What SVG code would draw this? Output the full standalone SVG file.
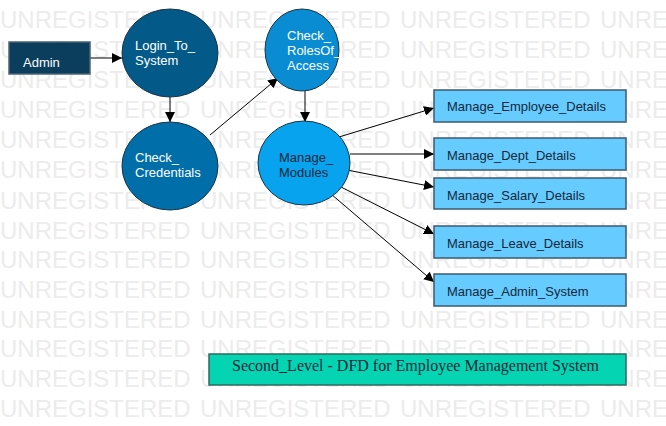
<svg xmlns="http://www.w3.org/2000/svg" width="666" height="426" viewBox="0 0 666 426">
<defs>
<style>
.wm{font-family:"Liberation Sans",Arial,sans-serif;font-size:24px;fill:#ececec}
.lbl{font-family:"Liberation Sans",Arial,sans-serif;font-size:13px}
.w{fill:#ffffff}
.d{fill:#15283a}
.box{fill:#66ccff;stroke:#3d5a6c;stroke-width:1.5}
.conn{stroke:#000;stroke-width:1;fill:none;marker-end:url(#ah)}
</style>
<marker id="ah" viewBox="0 0 10 10" refX="10" refY="5" markerWidth="10" markerHeight="10" markerUnits="userSpaceOnUse" orient="auto">
<path d="M0,0 L10,5 L0,10 z" fill="#000"/>
</marker>
</defs>
<rect width="666" height="426" fill="#ffffff"/>
<g id="watermark">
<text class="wm" y="28"><tspan x="0">UNREGISTERED</tspan><tspan x="200">UNREGISTERED</tspan><tspan x="400">UNREGISTERED</tspan><tspan x="600">UNREGISTERED</tspan></text>
<text class="wm" y="58"><tspan x="0">UNREGISTERED</tspan><tspan x="200">UNREGISTERED</tspan><tspan x="400">UNREGISTERED</tspan><tspan x="600">UNREGISTERED</tspan></text>
<text class="wm" y="88"><tspan x="0">UNREGISTERED</tspan><tspan x="200">UNREGISTERED</tspan><tspan x="400">UNREGISTERED</tspan><tspan x="600">UNREGISTERED</tspan></text>
<text class="wm" y="118"><tspan x="0">UNREGISTERED</tspan><tspan x="200">UNREGISTERED</tspan><tspan x="400">UNREGISTERED</tspan><tspan x="600">UNREGISTERED</tspan></text>
<text class="wm" y="148"><tspan x="0">UNREGISTERED</tspan><tspan x="200">UNREGISTERED</tspan><tspan x="400">UNREGISTERED</tspan><tspan x="600">UNREGISTERED</tspan></text>
<text class="wm" y="178"><tspan x="0">UNREGISTERED</tspan><tspan x="200">UNREGISTERED</tspan><tspan x="400">UNREGISTERED</tspan><tspan x="600">UNREGISTERED</tspan></text>
<text class="wm" y="209"><tspan x="0">UNREGISTERED</tspan><tspan x="200">UNREGISTERED</tspan><tspan x="400">UNREGISTERED</tspan><tspan x="600">UNREGISTERED</tspan></text>
<text class="wm" y="239"><tspan x="0">UNREGISTERED</tspan><tspan x="200">UNREGISTERED</tspan><tspan x="400">UNREGISTERED</tspan><tspan x="600">UNREGISTERED</tspan></text>
<text class="wm" y="268"><tspan x="0">UNREGISTERED</tspan><tspan x="200">UNREGISTERED</tspan><tspan x="400">UNREGISTERED</tspan><tspan x="600">UNREGISTERED</tspan></text>
<text class="wm" y="298"><tspan x="0">UNREGISTERED</tspan><tspan x="200">UNREGISTERED</tspan><tspan x="400">UNREGISTERED</tspan><tspan x="600">UNREGISTERED</tspan></text>
<text class="wm" y="328"><tspan x="0">UNREGISTERED</tspan><tspan x="200">UNREGISTERED</tspan><tspan x="400">UNREGISTERED</tspan><tspan x="600">UNREGISTERED</tspan></text>
<text class="wm" y="357"><tspan x="0">UNREGISTERED</tspan><tspan x="200">UNREGISTERED</tspan><tspan x="400">UNREGISTERED</tspan><tspan x="600">UNREGISTERED</tspan></text>
<text class="wm" y="387"><tspan x="0">UNREGISTERED</tspan><tspan x="200">UNREGISTERED</tspan><tspan x="400">UNREGISTERED</tspan><tspan x="600">UNREGISTERED</tspan></text>
<text class="wm" y="417"><tspan x="0">UNREGISTERED</tspan><tspan x="200">UNREGISTERED</tspan><tspan x="400">UNREGISTERED</tspan><tspan x="600">UNREGISTERED</tspan></text>
</g>
<g id="connectors">
<line class="conn" x1="90" y1="58" x2="122" y2="58"/>
<line class="conn" x1="170" y1="97" x2="170" y2="122"/>
<line class="conn" x1="210" y1="135" x2="278" y2="78"/>
<line class="conn" x1="305" y1="91" x2="305" y2="122"/>
<line class="conn" x1="339" y1="137" x2="434" y2="108"/>
<line class="conn" x1="350" y1="154" x2="434" y2="154"/>
<line class="conn" x1="347" y1="170" x2="434" y2="187"/>
<line class="conn" x1="341" y1="187" x2="434" y2="234"/>
<line class="conn" x1="331" y1="194" x2="434" y2="282"/>
</g>
<g id="admin">
<rect x="9" y="42" width="81" height="32" fill="#0b3d5c" stroke="#4d6475" stroke-width="1.5"/>
<text class="lbl w" x="23" y="67" font-size="15.5">Admin</text>
</g>
<g id="login">
<ellipse cx="170" cy="53" rx="48" ry="44" fill="#035a89" stroke="#1b3346" stroke-width="1"/>
<text class="lbl w" x="135" y="50">Login_To_</text>
<text class="lbl w" x="135" y="65">System</text>
</g>
<g id="credentials">
<ellipse cx="170" cy="166" rx="48" ry="44" fill="#006ea8" stroke="#1b3346" stroke-width="1"/>
<text class="lbl w" x="135" y="162">Check_</text>
<text class="lbl w" x="135" y="177">Credentials</text>
</g>
<g id="roles">
<ellipse cx="302" cy="50" rx="37" ry="41" fill="#0a8cd2" stroke="#1b3346" stroke-width="1"/>
<text class="lbl w" x="287" y="40">Check_</text>
<text class="lbl w" x="287" y="55">RolesOf_</text>
<text class="lbl w" x="287" y="70">Access</text>
</g>
<g id="modules">
<ellipse cx="304" cy="163" rx="46" ry="42" fill="#08a3ee" stroke="#1b3346" stroke-width="1"/>
<text class="lbl d" x="279" y="162">Manage_</text>
<text class="lbl d" x="279" y="177">Modules</text>
</g>
<g id="emp">
<rect class="box" x="434" y="90" width="192" height="32"/>
<text class="lbl d" x="447" y="111">Manage_Employee_Details</text>
</g>
<g id="dept">
<rect class="box" x="434" y="138" width="192" height="32"/>
<text class="lbl d" x="447" y="160">Manage_Dept_Details</text>
</g>
<g id="salary">
<rect class="box" x="434" y="178" width="192" height="31"/>
<text class="lbl d" x="447" y="200">Manage_Salary_Details</text>
</g>
<g id="leave">
<rect class="box" x="434" y="226" width="192" height="32"/>
<text class="lbl d" x="447" y="248">Manage_Leave_Details</text>
</g>
<g id="adminsys">
<rect class="box" x="434" y="274" width="192" height="32"/>
<text class="lbl d" x="447" y="296">Manage_Admin_System</text>
</g>
<g id="title">
<rect x="209" y="354" width="417" height="31" fill="#05d4b3" stroke="#2e6a60" stroke-width="1.5"/>
<text x="232" y="371" font-family="'Liberation Serif','Times New Roman',serif" font-size="16" fill="#15283a">Second_Level - DFD for Employee Management System</text>
</g>
</svg>
